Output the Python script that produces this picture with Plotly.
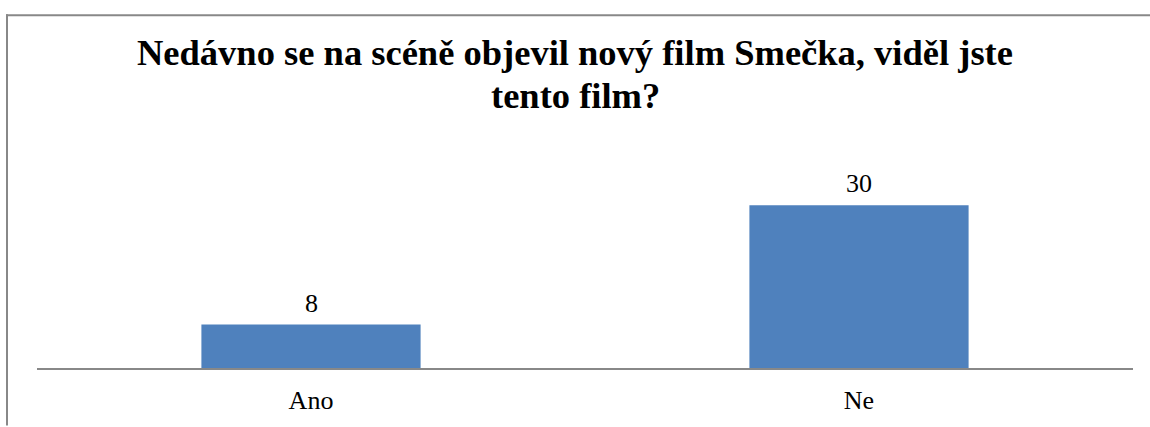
import plotly.graph_objects as go

categories = ["Ano", "Ne"]
values = [8, 30]
title_line1 = "Nedávno se na scéně objevil nový film Smečka, viděl jste"
title_line2 = "tento film?"

W, H = 1150, 427
L, R, T, B = 37, 17, 178, 54
pw = W - L - R
ph = H - T - B

def px(xpx):
    return (xpx - L) / pw

def py(ypx):
    return (H - B - ypx) / ph

fig = go.Figure(go.Bar(
    x=categories, y=values,
    marker=dict(color="#4F81BD", line=dict(width=0)),
    hoverinfo="x+y",
))

label_font = dict(family="Liberation Serif", size=26, color="black")
annotations = [
    dict(x=c, y=v, xref="x", yref="y", text=str(v), showarrow=False,
         yanchor="bottom", yshift=5, font=label_font)
    for c, v in zip(categories, values)
]
annotations.append(dict(x=px(575), y=py(93), xref="paper", yref="paper",
                        text=title_line2, showarrow=False, xanchor="center", yanchor="middle",
                        font=dict(family="Liberation Serif", size=36.5, color="black", weight="bold")))

border = dict(color="#888888", width=2)
fig.update_layout(
    width=W, height=H,
    margin=dict(l=L, r=R, t=T, b=B),
    paper_bgcolor="white", plot_bgcolor="white",
    bargap=0.6,
    showlegend=False,
    title=dict(text=title_line1, x=575 / W, xanchor="center", xref="container",
               y=1 - 52 / H, yanchor="middle", yref="container",
               font=dict(family="Liberation Serif", size=36.5, color="black", weight="bold")),
    xaxis=dict(showline=True, linecolor="#888888", linewidth=2, ticks="",
               tickfont=label_font, ticklabelstandoff=8,
               showgrid=False, zeroline=False),
    yaxis=dict(range=[0, 35], visible=False, showgrid=False, zeroline=False),
    annotations=annotations,
    shapes=[
        dict(type="line", xref="paper", yref="paper", x0=px(6), x1=px(W + 5),
             y0=py(11), y1=py(11), line=border, layer="below"),
        dict(type="line", xref="paper", yref="paper", x0=px(7), x1=px(7),
             y0=py(10), y1=py(H + 5), line=border, layer="below"),
    ],
)

fig.write_html("out.html", config={"displayModeBar": False},
               post_script="document.body.style.margin='0';document.body.style.overflow='hidden';")
